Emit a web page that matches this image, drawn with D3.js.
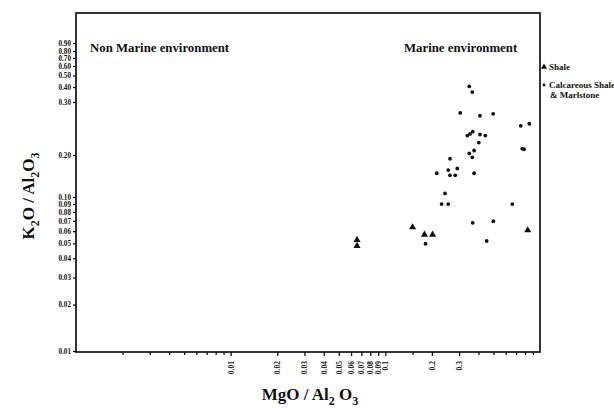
<!DOCTYPE html>
<html>
<head>
<meta charset="utf-8">
<script src="https://cdn.jsdelivr.net/npm/d3@7"></script>
<style>
  body { margin: 0; background: #fff; }
  text { font-family: "Liberation Serif", "Times New Roman", serif; font-weight: bold; fill: #111; }
</style>
</head>
<body>
<svg id="chart" width="614" height="408"></svg>
<script>
// Shale (triangles)
var shaleMgo = [0.0656, 0.0656, 0.150, 0.179, 0.202, 0.833];
var shaleK2o = [0.0526, 0.0481, 0.0636, 0.0569, 0.0569, 0.0608];

// Calcareous shale & marlstone (dots)
var marlMgo = [0.349, 0.365, 0.305, 0.409, 0.498, 0.750, 0.853, 0.339, 0.353, 0.367,
               0.409, 0.443, 0.402, 0.768, 0.788, 0.349, 0.375, 0.365, 0.262, 0.255,
               0.292, 0.215, 0.262, 0.283, 0.375, 0.243, 0.231, 0.255, 0.662, 0.367,
               0.499, 0.182, 0.452];
var marlK2o = [0.405, 0.363, 0.276, 0.270, 0.274, 0.250, 0.254, 0.232, 0.235, 0.239,
               0.234, 0.232, 0.220, 0.210, 0.209, 0.2025, 0.207, 0.1925, 0.188, 0.156,
               0.160, 0.148, 0.143, 0.143, 0.148, 0.106, 0.090, 0.090, 0.090, 0.068,
               0.0696, 0.0497, 0.0518];

var xTickVals = [0.01, 0.02, 0.03, 0.04, 0.05, 0.06, 0.07, 0.08, 0.09, 0.1, 0.2, 0.3];
var xMinorVals = [0.002, 0.003, 0.004, 0.005, 0.006, 0.007, 0.008, 0.009, 0.15,
                  0.4, 0.5, 0.6, 0.7, 0.8, 0.9];
var yTickVals = [0.01, 0.02, 0.03, 0.04, 0.05, 0.06, 0.07, 0.08, 0.09, 0.1,
                 0.2, 0.3, 0.4, 0.5, 0.6, 0.7, 0.8, 0.9];

var svg = d3.select("#chart");
var L = 76, R = 540, T = 13, B = 352;

var x = d3.scaleLog().domain([0.001, 1]).range([L, R]);
// the printed y axis is not evenly spaced above 0.1, so it is built piecewise
var y = d3.scaleLog()
  .domain([0.01, 0.1, 0.2, 0.3, 0.8, 0.9])
  .range([B - 1, 197, 155, 102, 51, 43]);

// frame
svg.append("rect")
  .attr("x", L).attr("y", T)
  .attr("width", R - L).attr("height", B - T)
  .attr("fill", "none").attr("stroke", "#111").attr("stroke-width", 1.7);

// x axis
var xAxis = svg.append("g")
  .attr("transform", "translate(0," + B + ")")
  .call(d3.axisBottom(x).tickValues(xTickVals).tickSize(4).tickFormat(function(d) { return String(d); }));
xAxis.select(".domain").remove();
xAxis.selectAll("line").attr("stroke", "#111").attr("stroke-width", 1.3);
xAxis.selectAll("text")
  .attr("transform", "rotate(-90)")
  .attr("x", -9).attr("y", 0).attr("dy", "0.32em")
  .attr("text-anchor", "end")
  .style("font-size", "7.5px");

var xMinor = svg.append("g")
  .attr("transform", "translate(0," + B + ")")
  .call(d3.axisBottom(x).tickValues(xMinorVals).tickSize(3).tickFormat(""));
xMinor.select(".domain").remove();
xMinor.selectAll("line").attr("stroke", "#111").attr("stroke-width", 1.3);

// y axis
var yAxis = svg.append("g")
  .attr("transform", "translate(" + L + ",0)")
  .call(d3.axisLeft(y).tickValues(yTickVals).tickSize(3).tickFormat(d3.format(".2f")));
yAxis.select(".domain").remove();
yAxis.selectAll("line").attr("stroke", "#111").attr("stroke-width", 1.3);
yAxis.selectAll("text").attr("x", -5).style("font-size", "7.2px");

// points
svg.append("g").selectAll("circle")
  .data(marlMgo)
  .enter()
  .append("circle")
  .attr("cx", function(d) { return x(d); })
  .attr("cy", function(d, i) { return y(marlK2o[i]); })
  .attr("r", 1.9)
  .attr("fill", "#111");

svg.append("g").selectAll("path")
  .data(shaleMgo)
  .enter()
  .append("path")
  .attr("d", d3.symbol(d3.symbolTriangle).size(22))
  .attr("transform", function(d, i) { return "translate(" + x(d) + "," + y(shaleK2o[i]) + ")"; })
  .attr("fill", "#111");

// region notes
svg.append("text").attr("x", 90).attr("y", 52).style("font-size", "12.8px").text("Non Marine environment");
svg.append("text").attr("x", 404).attr("y", 52).style("font-size", "12.8px").text("Marine environment");

// legend
svg.append("path")
  .attr("d", d3.symbol(d3.symbolTriangle).size(16))
  .attr("transform", "translate(544,67)")
  .attr("fill", "#111");
svg.append("text").attr("x", 549).attr("y", 70).style("font-size", "9px").text("Shale");
svg.append("circle").attr("cx", 544).attr("cy", 85).attr("r", 1.4).attr("fill", "#111");
svg.append("text").attr("x", 549).attr("y", 88).style("font-size", "9px").text("Calcareous Shale");
svg.append("text").attr("x", 550).attr("y", 97.5).style("font-size", "9px").text("& Marlstone");

// axis titles
var xt = svg.append("text")
  .attr("x", 310).attr("y", 400)
  .attr("text-anchor", "middle")
  .style("font-size", "17px");
xt.append("tspan").text("MgO / Al");
xt.append("tspan").attr("dy", 5).style("font-size", "12px").text("2");
xt.append("tspan").attr("dy", -5).text(" O");
xt.append("tspan").attr("dy", 5).style("font-size", "12px").text("3");

var yt = svg.append("text")
  .attr("transform", "translate(34,196) rotate(-90)")
  .attr("text-anchor", "middle")
  .style("font-size", "17px");
yt.append("tspan").text("K");
yt.append("tspan").attr("dy", 5).style("font-size", "12px").text("2");
yt.append("tspan").attr("dy", -5).text("O / Al");
yt.append("tspan").attr("dy", 5).style("font-size", "12px").text("2");
yt.append("tspan").attr("dy", -5).text("O");
yt.append("tspan").attr("dy", 5).style("font-size", "12px").text("3");
</script>
</body>
</html>
